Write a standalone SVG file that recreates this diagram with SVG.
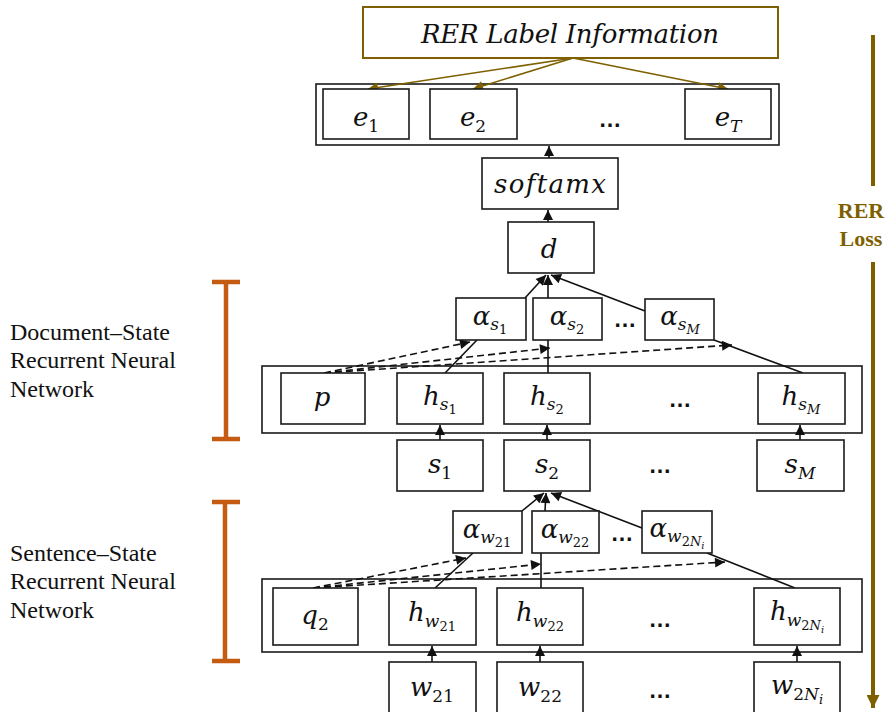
<svg xmlns="http://www.w3.org/2000/svg" width="890" height="712" viewBox="0 0 890 712">
<style>
.box{fill:#fff;stroke:#1a1a1a;stroke-width:1.6}
.outer{fill:none;stroke:#1a1a1a;stroke-width:1.6}
.m{font-family:"DejaVu Serif","Liberation Serif",serif;font-style:italic;font-size:26px;fill:#111}
.s{font-size:17px}
.ss{font-size:13px}
.up{font-style:normal}
.dots{font-family:"Liberation Sans",Arial,sans-serif;font-weight:bold;font-size:23px;fill:#111}
.ln{stroke:#111;stroke-width:1.6;fill:none}
.da{stroke:#111;stroke-width:1.6;fill:none;stroke-dasharray:7,4}
.br{stroke:#7f6000;stroke-width:1.6;fill:none}
.org{stroke:#c55a11;stroke-width:4.5;fill:none}
.lab{font-family:"Liberation Serif","Times New Roman",serif;font-size:24px;fill:#111}
.rl{font-family:"Liberation Serif","Times New Roman",serif;font-weight:bold;font-size:22px;fill:#7f6000}
</style>
<defs>
<marker id="ab" viewBox="0 0 10 10" refX="10" refY="5" markerWidth="12" markerHeight="10" markerUnits="userSpaceOnUse" orient="auto"><path d="M0,0 L10,5 L0,10 z" fill="#111"/></marker>
<marker id="abr" viewBox="0 0 10 10" refX="10" refY="5" markerWidth="13" markerHeight="10" markerUnits="userSpaceOnUse" orient="auto"><path d="M0,0 L10,5 L0,10 z" fill="#7f6000"/></marker>
<marker id="abl" viewBox="0 0 10 10" refX="10" refY="5" markerWidth="14" markerHeight="13" markerUnits="userSpaceOnUse" orient="auto"><path d="M0,0 L10,5 L0,10 z" fill="#7f6000"/></marker>
</defs>

<!-- side labels -->
<g id="doc-label">
<text class="lab" x="10" y="340">Document–State</text>
<text class="lab" x="10" y="368">Recurrent Neural</text>
<text class="lab" x="10" y="397">Network</text>
<path class="org" d="M212,282 H240 M226,282 V439 M212,439 H240"/>
</g>
<g id="sent-label">
<text class="lab" x="10" y="561">Sentence–State</text>
<text class="lab" x="10" y="589">Recurrent Neural</text>
<text class="lab" x="10" y="618">Network</text>
<path class="org" d="M212,502 H240 M225,502 V661 M212,661 H240"/>
</g>
<g id="rer-loss">
<line x1="873" y1="35" x2="873" y2="186" stroke="#7f6000" stroke-width="4"/>
<text class="rl" x="861" y="218" text-anchor="middle">RER</text>
<text class="rl" x="861" y="246" text-anchor="middle">Loss</text>
<line x1="873" y1="262" x2="873" y2="708" stroke="#7f6000" stroke-width="4" marker-end="url(#abl)"/>
</g>

<!-- outer containers -->
<g id="e-layer"><rect class="outer" x="316" y="84" width="463" height="61"/></g>
<g id="doc-rnn"><rect class="outer" x="262" y="366" width="600" height="67"/></g>
<g id="sent-rnn"><rect class="outer" x="262" y="579" width="600" height="73"/></g>

<!-- connectors -->
<g id="connectors">
<line class="br" x1="573" y1="58" x2="368" y2="89" marker-end="url(#abr)"/>
<line class="br" x1="573" y1="58" x2="473" y2="89" marker-end="url(#abr)"/>
<line class="br" x1="573" y1="58" x2="728" y2="89" marker-end="url(#abr)"/>
<line class="ln" x1="549" y1="158" x2="549" y2="146" marker-end="url(#ab)"/>
<line class="ln" x1="548" y1="222" x2="548" y2="210" marker-end="url(#ab)"/>
<line class="ln" x1="525" y1="298" x2="546" y2="275" marker-end="url(#ab)"/>
<line class="ln" x1="548" y1="298" x2="548" y2="275" marker-end="url(#ab)"/>
<line class="ln" x1="645" y1="311" x2="551" y2="275" marker-end="url(#ab)"/>
<line class="ln" x1="445" y1="373" x2="477" y2="340"/>
<line class="ln" x1="548" y1="340" x2="548" y2="373"/>
<line class="ln" x1="714" y1="340" x2="803" y2="373"/>
<line class="da" x1="324" y1="373" x2="470" y2="342" marker-end="url(#ab)"/>
<line class="da" x1="324" y1="373" x2="550" y2="348" marker-end="url(#ab)"/>
<line class="da" x1="324" y1="373" x2="732" y2="345" marker-end="url(#ab)"/>
<line class="ln" x1="440" y1="440" x2="440" y2="425" marker-end="url(#ab)"/>
<line class="ln" x1="547" y1="440" x2="547" y2="425" marker-end="url(#ab)"/>
<line class="ln" x1="800" y1="440" x2="800" y2="425" marker-end="url(#ab)"/>
<line class="ln" x1="522" y1="511" x2="544" y2="493" marker-end="url(#ab)"/>
<line class="ln" x1="545" y1="511" x2="546" y2="493" marker-end="url(#ab)"/>
<line class="ln" x1="642" y1="528" x2="551" y2="493" marker-end="url(#ab)"/>
<line class="ln" x1="473" y1="553" x2="435" y2="588"/>
<line class="ln" x1="541" y1="553" x2="541" y2="588"/>
<line class="ln" x1="707" y1="553" x2="795" y2="588"/>
<line class="da" x1="313" y1="588" x2="466" y2="558" marker-end="url(#ab)"/>
<line class="da" x1="313" y1="588" x2="541" y2="564" marker-end="url(#ab)"/>
<line class="da" x1="313" y1="588" x2="725" y2="562" marker-end="url(#ab)"/>
<line class="ln" x1="432" y1="662" x2="432" y2="646" marker-end="url(#ab)"/>
<line class="ln" x1="540" y1="662" x2="540" y2="646" marker-end="url(#ab)"/>
<line class="ln" x1="797" y1="662" x2="797" y2="646" marker-end="url(#ab)"/>
</g>

<!-- nodes -->
<g id="rer-info"><rect x="363" y="7" width="415" height="51" fill="#fff" stroke="#7f6000" stroke-width="2"/><text class="m" x="570" y="43" text-anchor="middle" textLength="298" lengthAdjust="spacing">RER Label Information</text></g>
<g id="e1"><rect class="box" x="323" y="89" width="86" height="50"/><text class="m" x="366" y="126" text-anchor="middle">e<tspan class="s up" dy="6">1</tspan></text></g>
<g id="e2"><rect class="box" x="430" y="89" width="87" height="50"/><text class="m" x="473" y="126" text-anchor="middle">e<tspan class="s up" dy="6">2</tspan></text></g>
<text class="dots" x="610" y="127" text-anchor="middle">…</text>
<g id="eT"><rect class="box" x="685" y="89" width="86" height="50"/><text class="m" x="728" y="126" text-anchor="middle">e<tspan class="s" dy="6">T</tspan></text></g>
<g id="softmax"><rect class="box" x="482" y="158" width="136" height="51"/><text class="m" x="550" y="193" text-anchor="middle" textLength="112" lengthAdjust="spacing">softamx</text></g>
<g id="d"><rect class="box" x="508" y="222" width="86" height="51"/><text class="m" x="549" y="258" text-anchor="middle">d</text></g>

<g id="alpha-s1"><rect class="box" x="456" y="298" width="70" height="42"/><text class="m" x="490" y="325" text-anchor="middle">α<tspan class="s" dy="5">s</tspan><tspan class="ss up" dy="4">1</tspan></text></g>
<g id="alpha-s2"><rect class="box" x="533" y="298" width="69" height="42"/><text class="m" x="567" y="325" text-anchor="middle">α<tspan class="s" dy="5">s</tspan><tspan class="ss up" dy="4">2</tspan></text></g>
<text class="dots" x="625" y="327" text-anchor="middle">…</text>
<g id="alpha-sM"><rect class="box" x="645" y="299" width="69" height="41"/><text class="m" x="680" y="325" text-anchor="middle">α<tspan class="s" dy="5">s</tspan><tspan class="ss" dy="4">M</tspan></text></g>

<g id="p"><rect class="box" x="281" y="373" width="84" height="51"/><text class="m" x="322" y="406" text-anchor="middle">p</text></g>
<g id="h-s1"><rect class="box" x="397" y="373" width="86" height="51"/><text class="m" x="440" y="405" text-anchor="middle">h<tspan class="s" dy="5">s</tspan><tspan class="ss up" dy="4">1</tspan></text></g>
<g id="h-s2"><rect class="box" x="504" y="373" width="86" height="51"/><text class="m" x="547" y="405" text-anchor="middle">h<tspan class="s" dy="5">s</tspan><tspan class="ss up" dy="4">2</tspan></text></g>
<text class="dots" x="680" y="407" text-anchor="middle">…</text>
<g id="h-sM"><rect class="box" x="758" y="373" width="87" height="51"/><text class="m" x="801" y="405" text-anchor="middle">h<tspan class="s" dy="5">s</tspan><tspan class="ss" dy="4">M</tspan></text></g>

<g id="s1"><rect class="box" x="397" y="440" width="86" height="51"/><text class="m" x="440" y="473" text-anchor="middle">s<tspan class="s up" dy="6">1</tspan></text></g>
<g id="s2"><rect class="box" x="504" y="440" width="86" height="51"/><text class="m" x="547" y="473" text-anchor="middle">s<tspan class="s up" dy="6">2</tspan></text></g>
<text class="dots" x="660" y="473" text-anchor="middle">…</text>
<g id="sM"><rect class="box" x="757" y="440" width="87" height="51"/><text class="m" x="800" y="473" text-anchor="middle">s<tspan class="s" dy="6">M</tspan></text></g>

<g id="alpha-w21"><rect class="box" x="453" y="511" width="69" height="42"/><text class="m" x="487" y="538" text-anchor="middle">α<tspan class="s" dy="5">w</tspan><tspan class="ss up" dy="4">21</tspan></text></g>
<g id="alpha-w22"><rect class="box" x="532" y="511" width="67" height="42"/><text class="m" x="565" y="538" text-anchor="middle">α<tspan class="s" dy="5">w</tspan><tspan class="ss up" dy="4">22</tspan></text></g>
<text class="dots" x="622" y="541" text-anchor="middle">…</text>
<g id="alpha-w2Ni"><rect class="box" x="642" y="511" width="70" height="42"/><text class="m" x="677" y="537" text-anchor="middle">α<tspan class="s" dy="5">w</tspan><tspan class="ss up" dy="4">2</tspan><tspan class="ss">N</tspan><tspan class="ss" style="font-size:10px" dy="3">i</tspan></text></g>

<g id="q2"><rect class="box" x="273" y="588" width="85" height="57"/><text class="m" x="315" y="624" text-anchor="middle">q<tspan class="s up" dy="6">2</tspan></text></g>
<g id="h-w21"><rect class="box" x="389" y="588" width="87" height="57"/><text class="m" x="432" y="621" text-anchor="middle">h<tspan class="s" dy="6">w</tspan><tspan class="ss up" dy="4">21</tspan></text></g>
<g id="h-w22"><rect class="box" x="497" y="588" width="86" height="57"/><text class="m" x="540" y="621" text-anchor="middle">h<tspan class="s" dy="6">w</tspan><tspan class="ss up" dy="4">22</tspan></text></g>
<text class="dots" x="660" y="627" text-anchor="middle">…</text>
<g id="h-w2Ni"><rect class="box" x="754" y="588" width="86" height="57"/><text class="m" x="797" y="620" text-anchor="middle">h<tspan class="s" dy="6">w</tspan><tspan class="ss up" dy="4">2</tspan><tspan class="ss">N</tspan><tspan class="ss" style="font-size:10px" dy="3">i</tspan></text></g>

<g id="w21"><rect class="box" x="389" y="662" width="87" height="52"/><text class="m" x="432" y="696" text-anchor="middle">w<tspan class="s up" dy="6">21</tspan></text></g>
<g id="w22"><rect class="box" x="497" y="662" width="86" height="52"/><text class="m" x="540" y="696" text-anchor="middle">w<tspan class="s up" dy="6">22</tspan></text></g>
<text class="dots" x="660" y="698" text-anchor="middle">…</text>
<g id="w2Ni"><rect class="box" x="754" y="662" width="86" height="52"/><text class="m" x="797" y="694" text-anchor="middle">w<tspan class="s up" dy="6">2</tspan><tspan class="s">N</tspan><tspan class="ss" dy="4">i</tspan></text></g>
</svg>
